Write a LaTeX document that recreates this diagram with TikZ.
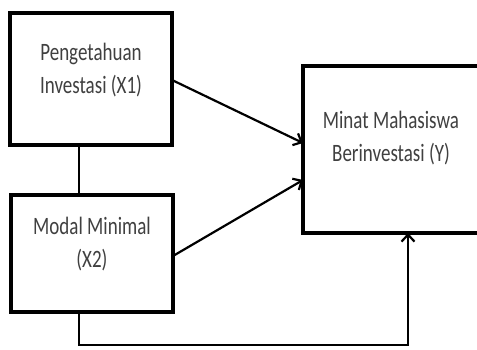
\documentclass[tikz,border=0pt]{standalone}
\usepackage{fontspec}
\setmainfont{Carlito}[FakeStretch=0.76]
\usetikzlibrary{arrows.meta,calc}
\begin{document}
\begin{tikzpicture}[x=1pt,y=-1pt,
  box/.style={draw=black,line width=3.5pt,fill=white},
  conn/.style={draw=black,line width=2.2pt},
  arr/.style={conn,-{Straight Barb[length=7pt,width=13pt,line width=2.2pt]}},
  lbl/.style={align=center,text=black!75,font=\fontsize{25}{33}\selectfont,inner sep=0pt,anchor=base}]
\useasboundingbox (0,0) rectangle (477,350);
\clip (0,0) rectangle (477,350);
\path[box] (10,13) rectangle (172,145);
\coordinate (b1e) at (172,80);
\coordinate (b1s) at (79,145);
\path[box] (11,195) rectangle (173,312);
\coordinate (b2e) at (173,256);
\coordinate (b2n) at (79,195);
\coordinate (b2s) at (79,312);
\path[box] (303,66) rectangle (495,233);
\coordinate (b3a) at (303,143);
\coordinate (b3b) at (303,180);
\coordinate (b3s) at (408,233);
\coordinate (corner1) at (79,345);
\coordinate (corner2) at (408,345);
\node[lbl] (t1) at (91,94) {Pengetahuan\\Investasi (X1)};
\node[lbl] (t2) at (92,267) {Modal Minimal\\(X2)};
\node[lbl] (t3) at (391,162) {Minat Mahasiswa\\Berinvestasi (Y)};
\draw[conn] (b1s) -- (b2n);
\draw[arr] (b1e) -- (b3a);
\draw[arr] (b2e) -- (b3b);
\draw[arr] (b2s) -- (corner1) -- (corner2) -- (b3s);
\end{tikzpicture}
\end{document}
